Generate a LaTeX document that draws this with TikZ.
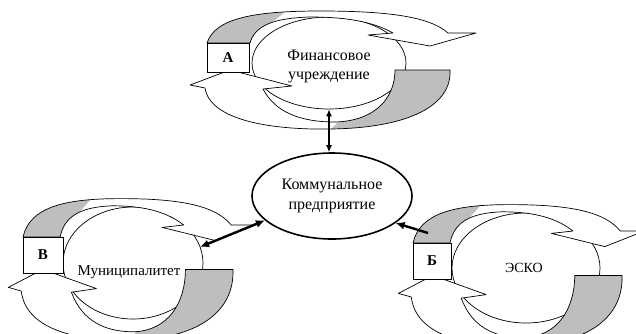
\documentclass[tikz,border=0pt]{standalone}
\usepackage{fontspec}
\setmainfont{Liberation Serif}
\usetikzlibrary{shapes.geometric,arrows.meta,calc}
\definecolor{bandgray}{RGB}{190,190,190}
\tikzset{
  clusterell/.style={ellipse, draw, fill=white, line width=0.7pt, inner sep=0pt},
  letterbox/.style={rectangle, draw, fill=white, line width=0.7pt, inner sep=0pt, font=\fontsize{15}{17}\selectfont\bfseries},
  lbl/.style={align=center, font=\fontsize{15}{18}\selectfont, inner sep=0pt},
  mainell/.style={ellipse, draw, fill=white, line width=1.6pt, minimum width=160pt, minimum height=86pt, inner sep=0pt, align=center, font=\fontsize{16}{19}\selectfont},
  boldlink/.style={line width=2.4pt},
  thinlink/.style={line width=1.2pt},
  bandline/.style={draw, line width=0.7pt, line join=round}
}
\newcommand{\topband}[1]{\path[#1] (207,43) .. controls (215,18) and (255,11) .. (320,11) .. controls (390,11) and (430,17) .. (448,33) -- (476,33) -- (430,46) -- (368,35) -- (393,33) .. controls (370,20) and (340,17) .. (310,17) .. controls (275,18) and (255,25) .. (250,43) -- cycle;}
\newcommand{\botband}[1]{\path[#1] (395,70) -- (450,70) .. controls (452,105) and (410,128) .. (330,129) .. controls (270,130) and (210,120) .. (205,88) -- (190,85) -- (230,70) -- (292,86) -- (263,89) .. controls (275,112) and (300,122) .. (335,122) .. controls (375,121) and (395,98) .. (395,70) -- cycle;}
\newcommand{\cyclebands}{%
  \topband{fill=white}
  \begin{scope}\clip (150,60) -- (150,0) -- (300,0) -- (265,28) -- (255,60) -- cycle; \topband{fill=bandgray}\end{scope}
  \topband{bandline}
  \botband{fill=white}
  \begin{scope}\clip (380,60) -- (500,60) -- (500,140) -- (320,140) -- (345,115) -- cycle; \botband{fill=bandgray}\end{scope}
  \botband{bandline}
}
\begin{document}
\begin{tikzpicture}[x=1pt,y=-1pt]
\useasboundingbox (0,0) rectangle (636,333);
% cluster A
\node[clusterell, minimum width=154pt, minimum height=92pt] (fa) at (329,63) {};
\begin{scope}\cyclebands\end{scope}
\node[letterbox, minimum width=42pt, minimum height=29pt] (boxA) at (228,57.5) {А};
\node[lbl, font=\fontsize{16}{19}\selectfont] (faT) at (329,66) {Финансовое\\учреждение};
% cluster B
\node[clusterell, minimum width=140pt, minimum height=112pt] (mu) at (133,263) {};
\begin{scope}[shift={(8.3,237)}, xscale=0.864, yscale=1.2, shift={(-190,-43)}]\cyclebands\end{scope}
\node[letterbox, minimum width=40pt, minimum height=36pt] (boxB) at (43,255) {В};
\node[lbl] (muT) at (129,272) {Муниципалитет};
% cluster E
\node[clusterell, minimum width=148pt, minimum height=110pt] (esko) at (526,268) {};
\begin{scope}[shift={(398.4,243)}, xscale=0.86, yscale=1.2, shift={(-190,-43)}]\cyclebands\end{scope}
\node[letterbox, minimum width=38pt, minimum height=36pt] (boxE) at (432,261) {Б};
\node[lbl, font=\fontsize{14}{16}\selectfont] (eskoT) at (524,268) {ЭСКО};
% center
\node[mainell] (kp) at (332,196) {Коммунальное\\[1pt]предприятие};
\coordinate (bEnd) at (200,247);
\coordinate (eEnd) at (428,233);
\draw[boldlink, {Latex[length=9pt,width=8pt]}-{Latex[length=9pt,width=8pt]}] (kp.200) -- (bEnd);
\draw[boldlink, -{Latex[length=9pt,width=8pt]}] (eEnd) -- (kp.-23);
\draw[thinlink, {Latex[length=7pt,width=6pt]}-{Latex[length=7pt,width=6pt]}] (fa.south) -- (fa.south |- kp.north);
\end{tikzpicture}
\end{document}
